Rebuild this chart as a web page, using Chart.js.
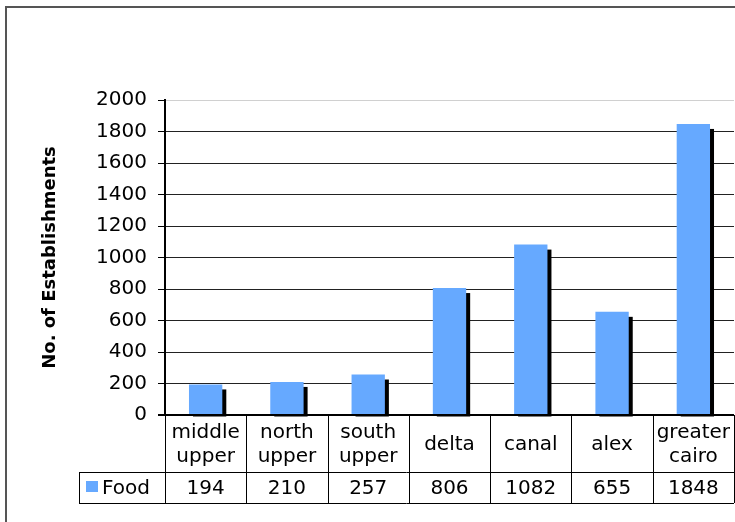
<!DOCTYPE html>
<html>
<head>
<meta charset="utf-8">
<script src="https://cdn.jsdelivr.net/npm/chart.js@4"></script>
<style>
  html, body { margin: 0; padding: 0; background: #fff; }
  #wrap { width: 735px; height: 522px; }
</style>
</head>
<body>
<div id="wrap"><canvas id="myChart" width="735" height="522"></canvas></div>
<script>
const categories = [
  ["middle", "upper"],
  ["north", "upper"],
  ["south", "upper"],
  ["delta"],
  ["canal"],
  ["alex"],
  ["greater", "cairo"],
];
const seriesName = "Food";
const foodValues = [194, 210, 257, 806, 1082, 655, 1848];
const yMin = 0;
const yMax = 2000;
const yStep = 200;

const FONT = "'DejaVu Sans', Verdana, sans-serif";
const barColor = "#66a9ff";

// black drop shadow behind each bar (offset right/down)
const shadowPlugin = {
  id: "barShadow",
  beforeDatasetsDraw(chart) {
    const ctx = chart.ctx;
    const meta = chart.getDatasetMeta(0);
    ctx.save();
    ctx.fillStyle = "#000";
    meta.data.forEach((bar) => {
      const w = bar.width;
      ctx.fillRect(bar.x - w / 2 + 4, bar.y + 5, w, bar.base - bar.y - 3);
    });
    ctx.restore();
  },
};

// data table under the plot + outer frame
const tablePlugin = {
  id: "dataTable",
  afterDraw(chart) {
    const ctx = chart.ctx;
    const area = chart.chartArea;
    const xs = chart.scales.x;
    const n = categories.length;
    const colW = (area.right - area.left) / n;
    const top = area.bottom;
    const mid = top + 57;
    const bot = mid + 31;
    const keyLeft = 79;

    ctx.save();
    // outer frame
    ctx.strokeStyle = "#555";
    ctx.lineWidth = 2;
    ctx.strokeRect(6, 7, 800, 600);

    ctx.strokeStyle = "#000";
    ctx.lineWidth = 1;
    ctx.beginPath();
    ctx.moveTo(keyLeft, mid + 0.5); ctx.lineTo(area.right, mid + 0.5);
    ctx.moveTo(keyLeft, bot + 0.5); ctx.lineTo(area.right, bot + 0.5);
    ctx.moveTo(keyLeft + 0.5, mid); ctx.lineTo(keyLeft + 0.5, bot);
    for (let i = 0; i <= n; i++) {
      const x = Math.round(area.left + i * colW) + 0.5;
      ctx.moveTo(x, top); ctx.lineTo(x, bot);
    }
    ctx.stroke();

    // axis line at zero / table top
    ctx.lineWidth = 2;
    ctx.beginPath();
    ctx.moveTo(area.left - 7, top); ctx.lineTo(area.right, top);
    ctx.stroke();

    ctx.fillStyle = "#000";
    ctx.font = "20px " + FONT;
    ctx.textAlign = "center";
    ctx.textBaseline = "middle";
    categories.forEach((lines, i) => {
      const cx = xs.getPixelForValue(i);
      const cy = (top + mid) / 2 + 1;
      const lh = 24;
      lines.forEach((t, j) => {
        ctx.fillText(t, cx, cy + (j - (lines.length - 1) / 2) * lh);
      });
      ctx.fillText(String(foodValues[i]), cx, (mid + bot) / 2 + 1);
    });

    // legend key
    ctx.fillStyle = barColor;
    ctx.fillRect(86, 481, 12, 11);
    ctx.fillStyle = "#000";
    ctx.textAlign = "left";
    ctx.fillText(seriesName, 102, (mid + bot) / 2 + 1);
    ctx.restore();
  },
};

const ctx = document.getElementById("myChart").getContext("2d");
const myChart = new Chart(ctx, {
  type: "bar",
  data: {
    labels: categories,
    datasets: [
      {
        label: seriesName,
        data: foodValues,
        backgroundColor: barColor,
        borderWidth: 0,
        categoryPercentage: 1,
        barPercentage: 0.41,
      },
    ],
  },
  options: {
    responsive: false,
    animation: false,
    layout: { padding: { top: 100, bottom: 107, left: 0, right: 1 } },
    plugins: {
      legend: { display: false },
      tooltip: { enabled: false },
    },
    scales: {
      x: { display: false },
      y: {
        min: yMin,
        max: yMax,
        afterFit(scale) { scale.width = 165; },
        ticks: {
          stepSize: yStep,
          color: "#000",
          padding: 11,
          font: { family: FONT, size: 20 },
          callback: (v) => String(v),
        },
        grid: {
          color: (c) => (c.tick && c.tick.value === yMax ? "#d0d0d0" : "#222"),
          tickColor: "#000",
          tickLength: 7,
          lineWidth: 1,
        },
        border: { color: "#000", width: 2 },
        title: {
          display: true,
          text: "No. of Establishments",
          color: "#000",
          font: { family: FONT, size: 18, weight: "bold" },
          padding: { top: 40, bottom: 0 },
        },
      },
    },
  },
  plugins: [shadowPlugin, tablePlugin],
});
</script>
</body>
</html>
